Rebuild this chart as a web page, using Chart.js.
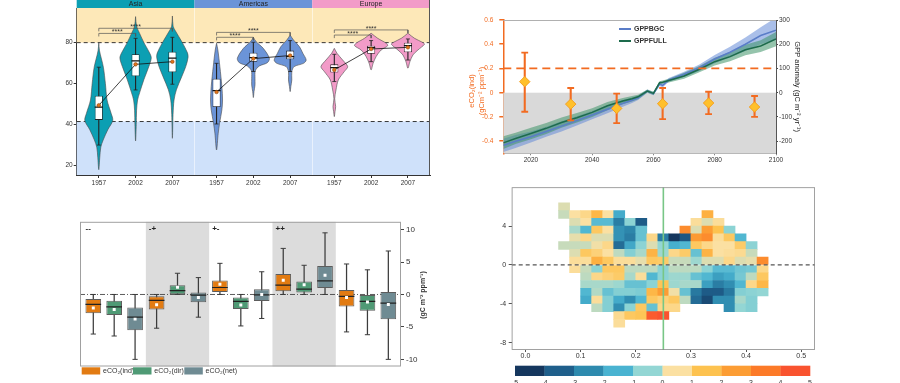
<!DOCTYPE html>
<html>
<head>
<meta charset="utf-8">
<title>Composite figure</title>
<script src="https://cdn.jsdelivr.net/npm/chart.js@4.4.1/dist/chart.umd.min.js"></script>
<style>
  html, body { margin: 0; padding: 0; background: #ffffff; }
  #page { position: relative; width: 900px; height: 383px; overflow: hidden; background: #ffffff; }
  #page canvas { position: absolute; }
</style>
</head>
<body>
<div id="page">
  <canvas id="violin" width="400" height="190" style="left:40px;top:0px;width:400px;height:190px"></canvas>
  <canvas id="gpp" width="410" height="175" style="left:440px;top:0px;width:410px;height:175px"></canvas>
  <canvas id="boxes" width="400" height="168" style="left:40px;top:215px;width:400px;height:168px"></canvas>
  <canvas id="heat" width="380" height="208" style="left:470px;top:175px;width:380px;height:208px"></canvas>
</div>
<script>
/* ================= DATA ================= */
/* Panel A : violins */
const regions = ['Asia', 'Americas', 'Europe'];
const periods = ['1957', '2002', '2007'];
const regionColors = ['#0c9fb3', '#6b94d8', '#f29bc8'];

const vAsia1957Y = [80, 76, 68, 60, 52, 45.5, 42, 37.5, 32.5, 29, 24, 18];
const vAsia1957W = [0, 0.02, 0.125, 0.18, 0.225, 0.335, 0.38, 0.245, 0.12, 0.055, 0.027, 0];
const vAsia2002Y = [92.7, 88, 84.5, 80, 75, 72.5, 68.5, 62, 55.5, 52, 47, 40, 32];
const vAsia2002W = [0, 0.027, 0.11, 0.227, 0.38, 0.426, 0.363, 0.227, 0.109, 0.054, 0.027, 0.018, 0];
const vAsia2007Y = [93, 88, 86, 80, 75, 72.8, 68.3, 63.4, 57, 52, 45, 33.3];
const vAsia2007W = [0, 0.02, 0.073, 0.27, 0.41, 0.426, 0.363, 0.254, 0.109, 0.045, 0.018, 0];
const vAmer1957Y = [79.7, 76.4, 68.3, 58.5, 52, 47.2, 40.7, 35.8, 27.6];
const vAmer1957W = [0, 0.036, 0.09, 0.145, 0.163, 0.145, 0.082, 0.045, 0];
const vAmer2002Y = [82.6, 80.5, 77.2, 72.4, 70.2, 68.6, 66.3, 62.6, 59.3, 56.1, 53.2];
const vAmer2002W = [0, 0.073, 0.27, 0.435, 0.38, 0.163, 0.054, 0.045, 0.045, 0.018, 0];
const vAmer2007Y = [83.7, 81.3, 78, 74.8, 71.5, 69.9, 68.3, 65.9, 61.8, 58.5, 56.1];
const vAmer2007W = [0, 0.09, 0.254, 0.345, 0.435, 0.363, 0.109, 0.045, 0.045, 0.018, 0];
const vEuro1957Y = [77.2, 74.8, 71.5, 68.3, 65.9, 61.8, 56.9, 52.6, 48.8, 46.3, 43.9];
const vEuro1957W = [0, 0.073, 0.227, 0.363, 0.272, 0.109, 0.045, 0.01, 0.036, 0.018, 0];
const vEuro2002Y = [84.6, 82.1, 79.7, 78.5, 76.4, 73.2, 69.9, 66.7];
const vEuro2002W = [0, 0.18, 0.41, 0.45, 0.272, 0.136, 0.054, 0];
const vEuro2007Y = [84.6, 82.1, 80, 79.2, 76.4, 74, 70.7, 67.5];
const vEuro2007W = [0, 0.18, 0.41, 0.45, 0.272, 0.136, 0.054, 0];

const boxQ1 = [42.3, 63.6, 65.5, 48.6, 70.7, 71.9, 65.4, 74.6, 75.3];
const boxMedian = [48.5, 71.1, 72.4, 56.6, 72.7, 73.2, 67.8, 77.6, 78.5];
const boxQ3 = [54.1, 74.3, 75.6, 62.4, 75.1, 76.1, 69.4, 78.5, 80.0];
const whiskerLow = [30, 56.9, 59.7, 40.3, 65.9, 65.9, 61, 70.7, 71.5];
const whiskerHigh = [68, 82.1, 82.6, 69.9, 80.2, 81, 74.3, 81, 81.8];
const groupMean = [49.4, 69.4, 70.7, 55.9, 72.2, 73.7, 66.7, 76.9, 77.7];
const bracketLow = [84.5, 82.6, 83.7];   // 1957 vs 2002
const bracketHigh = [87.0, 85.0, 86.2];  // 1957 vs 2007
const bracketLabel = '****';
const upperThreshold = 80;
const lowerThreshold = 41.5;
const violinYTicks = [20, 40, 60, 80];

/* Panel B : GPP anomaly lines and eCO2(ind) error bars */
const gppYears    = [2011, 2015, 2020, 2025, 2030, 2035, 2040, 2045, 2050, 2053, 2055, 2058, 2060, 2062, 2063, 2065, 2070, 2075, 2080, 2085, 2090, 2095, 2100];
const gppBGC      = [-217, -200, -182, -160, -138, -115, -92, -68, -44, -31, -21, 7, -4, 36, 30, 53, 76, 103, 139, 167, 200, 236, 258];
const gppBGCLow   = [-245, -228, -205, -182, -160, -135, -110, -85, -58, -42, -30, 0, -10, 28, 22, 45, 65, 90, 122, 145, 172, 200, 218];
const gppBGCHigh  = [-190, -175, -160, -140, -118, -97, -75, -52, -30, -20, -12, 13, 3, 44, 40, 61, 86, 116, 156, 190, 228, 270, 310];
const gppFULL     = [-207, -189, -168, -147, -123, -103, -81, -54, -34, -25, -17, 7, -3, 41, 43, 50, 69, 97, 128, 149, 177, 193, 222];
const gppFULLLow  = [-232, -212, -192, -170, -145, -123, -100, -72, -48, -36, -27, 1, -9, 35, 37, 42, 58, 84, 112, 130, 155, 168, 192];
const gppFULLHigh = [-180, -165, -145, -125, -102, -84, -64, -38, -22, -14, -8, 13, 4, 47, 50, 58, 82, 110, 144, 168, 198, 216, 250];
const gppNames = ['GPPBGC', 'GPPFULL'];
const gppLineColors = ['#5a7dc8', '#1d6b4c'];
const gppBandColors = ['rgba(100,138,215,0.55)', 'rgba(62,148,104,0.55)'];
const indYears = [2018, 2033, 2048, 2063, 2078, 2093];
const indMean = [0.091, -0.094, -0.13, -0.091, -0.085, -0.118];
const indLow = [-0.157, -0.229, -0.251, -0.218, -0.176, -0.2];
const indHigh = [0.331, 0.039, -0.008, 0.039, 0.008, -0.027];
const indThreshold = 0.2;
const gppXTicks = [2020, 2040, 2060, 2080, 2100];
const indYTicks = [-0.4, -0.2, 0, 0.2, 0.4, 0.6];
const gppYTicks = [-200, -100, 0, 100, 200, 300];

/* Panel C : box plots */
const groupIds = [1, 2, 3, 4, 5];
const groupLabels = ['--', '-+', '+-', '++', ''];
const shadedGroups = [2, 4];
const seriesNames = ['eCO\u2082(ind)', 'eCO\u2082(dir)', 'eCO\u2082(net)'];
const seriesColors = ['#e27b12', '#4f9a75', '#6f8b93'];
const indQ1   = [-2.9, -2.3, 0.4, 0.5, -1.84];
const indMed  = [-1.53, -0.92, 1.07, 1.43, -0.3];
const indQ3   = [-0.71, -0.26, 2.14, 3.16, 0.7];
const indLo   = [-6.1, -5.2, 0, 0, -5.77];
const indHi   = [0, 0, 4.8, 7.1, 4.7];
const indAvg  = [-2.1, -1.6, 1.58, 2.2, -0.46];
const dirQ1   = [-3.16, 0.05, -2.25, 0.3, -2.5];
const dirMed  = [-1.9, 0.6, -1.07, 0.82, -1.07];
const dirQ3   = [-0.97, 1.43, -0.46, 2.0, 0];
const dirLo   = [-6.4, 0, -4.85, 0, -6.2];
const dirHi   = [0, 3.27, 0, 4.5, 3.8];
const dirAvg  = [-2.3, 1.1, -1.63, 1.5, -1.17];
const netQ1   = [-5.5, -1.2, -1.0, 1.0, -3.83];
const netMed  = [-3.5, -0.1, -0.05, 2.1, -1.33];
const netQ3   = [-2.0, 0.3, 0.8, 4.4, 0.4];
const netLo   = [-10, -3.5, -3.7, 0, -10];
const netHi   = [0, 2.6, 3.5, 9.5, 6.7];
const netAvg  = [-3.8, -0.46, 0, 2.96, -1.53];
const boxYTicks = [-10, -5, 0, 5, 10];

/* Panel D : heat map */
const heatXCenters = [0.07, 0.09, 0.11, 0.13, 0.15, 0.17, 0.19, 0.21, 0.23, 0.25, 0.27, 0.29, 0.31, 0.33, 0.35, 0.37, 0.39, 0.41, 0.43];
const heatYCenters = [6.0, 5.2, 4.4, 3.6, 2.8, 2.0, 1.2, 0.4, -0.4, -1.2, -2.0, -2.8, -3.6, -4.4, -5.2, -6.0];
const _ = null;
const heatValues = [
  [0.2, _, _, _, _, _, _, _, _, _, _, _, _, _, _, _, _, _, _],
  [0, 0.5, 0.8, 1.8, 0.5, -1.7, _, _, _, _, _, _, _, 2.0, _, _, _, _, _],
  [_, 0.2, 0.5, -1.3, -1.3, -2.8, -0.6, -3.6, _, _, _, _, 0.6, 0.2, 0.6, _, _, _, _],
  [_, -0.3, -1.4, 1.3, 0.5, -2.3, -2.6, -1.1, _, _, _, 3.0, 0.2, 2.5, 1.5, -0.6, _, _, _],
  [_, 0.3, 0.8, 0.2, 0.2, -2.3, -2.8, -1.1, 0.8, -2.8, -4.6, -3.7, 2.6, 3.0, 0.6, 1.3, -1.4, _, _],
  [0, 0, 0, 0.4, 0.8, -3.2, -1.8, -0.6, 0.2, -0.5, -1.6, -1.4, 1.3, 0.8, 0.5, 0.5, 1.2, -0.6, _],
  [_, 0.2, 1.3, 1.0, 0.5, -0.1, -0.7, -0.3, 1.9, -0.4, 0.8, 1.2, -1.1, 1.9, 0.5, 0.6, 0.7, 0, _],
  [_, 0.6, 0.6, 2.0, 1.3, 0.6, 0.6, 0.3, 1.3, 1.2, 0, 0, -0.4, 0.2, 0.2, 0.8, 0.2, 0.3, 3.0],
  [_, 0.6, 0, -0.6, 1.3, 1.3, -0.1, -0.1, -0.1, -0.6, -0.1, -0.1, -0.1, -0.6, -1.3, -1.3, -1.0, -0.9, 0.8],
  [_, _, -0.1, 0.8, 1.0, 1.2, -0.3, 0.6, -1.4, -0.6, -0.4, -0.4, -1.1, -1.4, -2.0, -1.7, -0.9, -0.1, 1.3],
  [_, _, -0.3, -0.3, -0.3, -0.4, -1.1, -1.1, -0.6, 1.4, -0.4, -0.3, -0.3, -2.0, -2.8, -2.4, -1.4, 0.8, 1.8],
  [_, _, -1.4, -0.2, -1.1, -0.7, -0.7, -0.8, 1.8, 2.5, 0.4, -1.1, -2.9, -3.6, -3.6, -2.9, -0.7, -0.6, -0.5],
  [_, _, -1.7, 0.6, -0.7, -1.7, -2.4, -1.4, 1.3, 1.0, 1.3, -0.1, -3.2, -4.0, -2.4, -2.4, -0.3, -0.7, _],
  [_, _, _, -0.1, -0.7, -2.4, -0.6, 1.3, -1.1, 0.8, 0.8, _, _, _, _, -2.4, -0.5, -0.7, _],
  [_, _, _, _, _, 0.7, 1.3, 1.4, 4.3, 4.6, _, _, _, _, _, _, _, _, _],
  [_, _, _, _, _, 0.6, _, _, _, _, _, _, _, _, _, _, _, _, _]
];
const heatBreaks = [-5, -4, -3, -2, -1, 0, 1, 2, 3, 4, 5];
const heatColors = ['#15375e', '#1f5f8b', '#2e8aae', '#4ab3d1', '#93d6d4', '#fbe0a2', '#fdc24f', '#fc9d34', '#fc7a28', '#f9532f'];
const heatRefX = 0.25;
const heatXTicks = [0, 0.1, 0.2, 0.3, 0.4, 0.5];
const heatYTicks = [-8, -4, 0, 4];

/* ================= COMMON ================= */
const FONT = "'Liberation Sans', Arial, Helvetica, sans-serif";
Chart.defaults.font.family = FONT;
Chart.defaults.font.size = 7;
Chart.defaults.color = '#333';
Chart.defaults.plugins.legend.display = false;
Chart.defaults.plugins.tooltip.enabled = false;
Chart.defaults.elements.point.radius = 0;
Chart.defaults.elements.point.hoverRadius = 0;

const baseOpts = { responsive: false, animation: false, devicePixelRatio: 1, events: [] };
const fixWidth = w => s => { s.width = w; };
const fixHeight = h => s => { s.height = h; };
const useTicks = vals => s => { s.ticks = vals.map(v => ({ value: v })); };

/* ================= PANEL A ================= */
(function () {
  const levels = [vAsia1957Y, vAsia2002Y, vAsia2007Y, vAmer1957Y, vAmer2002Y, vAmer2007Y, vEuro1957Y, vEuro2002Y, vEuro2007Y];
  const widths = [vAsia1957W, vAsia2002W, vAsia2007W, vAmer1957W, vAmer2002W, vAmer2007W, vEuro1957W, vEuro2002W, vEuro2007W];
  const panelSpan = 3.2, firstOffset = 0.6;
  const xMax = panelSpan * regions.length;
  const xPos = i => Math.floor(i / periods.length) * panelSpan + firstOffset + (i % periods.length);
  const xs = boxQ1.map((_, i) => xPos(i));
  const ds = [];

  [upperThreshold, lowerThreshold].forEach(v => ds.push({
    type: 'line', data: [{ x: 0, y: v }, { x: xMax, y: v }],
    borderColor: '#222', borderWidth: 0.9, borderDash: [4, 3], order: 20
  }));

  levels.forEach((lv, i) => {
    const cx = xs[i];
    const right = lv.map((v, k) => ({ x: cx + widths[i][k], y: v }));
    const left = lv.map((v, k) => ({ x: cx - widths[i][k], y: v })).reverse().slice(1);
    ds.push({
      type: 'line', data: right.concat(left), fill: 'shape',
      backgroundColor: regionColors[Math.floor(i / periods.length)],
      borderColor: '#4a4a4a', borderWidth: 0.6, tension: 0.3, order: 10
    });
  });

  ds.push({ type: 'bar', data: xs.map((x, i) => ({ x, y: [whiskerLow[i], whiskerHigh[i]] })),
    backgroundColor: '#222', grouped: false, categoryPercentage: 1, barPercentage: 0.03, order: 8 });
  ds.push({ type: 'line', showLine: false,
    data: xs.flatMap((x, i) => [{ x, y: whiskerLow[i] }, { x, y: whiskerHigh[i] }]),
    pointStyle: 'line', pointRadius: 2, pointBorderColor: '#222', pointBorderWidth: 0.8, order: 8 });
  ds.push({ type: 'bar', data: xs.map((x, i) => ({ x, y: [boxQ1[i], boxQ3[i]] })),
    backgroundColor: '#ffffff', borderColor: '#222', borderWidth: 0.8, borderSkipped: false,
    grouped: false, categoryPercentage: 1, barPercentage: 0.22, order: 6 });
  ds.push({ type: 'bar', data: xs.map((x, i) => ({ x, y: [boxMedian[i] - 0.3, boxMedian[i] + 0.3] })),
    backgroundColor: '#111', grouped: false, categoryPercentage: 1, barPercentage: 0.22, order: 5 });

  regions.forEach((r, ri) => {
    const idx = periods.map((p, pi) => ri * periods.length + pi);
    ds.push({ type: 'line', data: idx.map(i => ({ x: xs[i], y: groupMean[i] })),
      borderColor: '#111', borderWidth: 0.8, pointRadius: 1.8, pointBackgroundColor: '#e0731c',
      pointBorderColor: '#7a3a00', pointBorderWidth: 0.5, order: 3 });
    const x0 = xs[idx[0]];
    [[xs[idx[1]], bracketLow[ri]], [xs[idx[2]], bracketHigh[ri]]].forEach(([x1, b]) => {
      ds.push({ type: 'line', data: [{ x: x0, y: b - 1.5 }, { x: x0, y: b }, { x: x1, y: b }, { x: x1, y: b - 1.5 }],
        borderColor: '#555', borderWidth: 0.7, order: 2 });
    });
  });

  const decor = {
    id: 'violinDecor',
    beforeDatasetsDraw(chart) {
      const { ctx, chartArea: a, scales: { x, y } } = chart;
      ctx.save();
      const yUp = y.getPixelForValue(upperThreshold), yLo = y.getPixelForValue(lowerThreshold);
      ctx.fillStyle = '#fde8b8'; ctx.fillRect(a.left, a.top, a.width, yUp - a.top);
      ctx.fillStyle = '#cfe1fa'; ctx.fillRect(a.left, yLo, a.width, a.bottom - yLo);
      ctx.strokeStyle = 'rgba(255,255,255,0.55)'; ctx.lineWidth = 1;
      for (let r = 1; r < regions.length; r++) {
        const px = Math.round(x.getPixelForValue(r * panelSpan)) + 0.5;
        ctx.beginPath(); ctx.moveTo(px, a.top); ctx.lineTo(px, a.bottom); ctx.stroke();
      }
      ctx.restore();
    },
    afterDatasetsDraw(chart) {
      const { ctx, scales: { x, y } } = chart;
      ctx.save();
      ctx.font = '7px ' + FONT; ctx.fillStyle = '#333'; ctx.textAlign = 'center'; ctx.textBaseline = 'alphabetic';
      regions.forEach((r, ri) => {
        const i0 = ri * periods.length;
        ctx.fillText(bracketLabel, x.getPixelForValue((xs[i0] + xs[i0 + 1]) / 2), y.getPixelForValue(bracketLow[ri]) + 0.8);
        ctx.fillText(bracketLabel, x.getPixelForValue((xs[i0] + xs[i0 + 2]) / 2), y.getPixelForValue(bracketHigh[ri]) + 0.8);
      });
      ctx.restore();
    },
    afterDraw(chart) {
      const { ctx, chartArea: a, scales: { x } } = chart;
      ctx.save();
      regions.forEach((r, ri) => {
        const l = x.getPixelForValue(ri * panelSpan), rr = x.getPixelForValue((ri + 1) * panelSpan);
        ctx.fillStyle = regionColors[ri];
        ctx.fillRect(l, 0, rr - l, a.top);
        ctx.fillStyle = '#222'; ctx.font = '7px ' + FONT; ctx.textAlign = 'center'; ctx.textBaseline = 'middle';
        ctx.fillText(r, (l + rr) / 2, a.top / 2 + 0.5);
      });
      ctx.strokeStyle = '#555'; ctx.lineWidth = 1;
      ctx.beginPath(); ctx.moveTo(a.right - 0.5, 0); ctx.lineTo(a.right - 0.5, a.bottom); ctx.stroke();
      ctx.restore();
    }
  };

  const tickLabels = xs.map((_, i) => periods[i % periods.length]);
  new Chart(document.getElementById('violin'), {
    type: 'line',
    data: { datasets: ds },
    options: Object.assign({}, baseOpts, {
      layout: { padding: { left: 0, right: 10, top: 8, bottom: 0 } },
      scales: {
        x: { type: 'linear', min: 0, max: xMax, offset: false,
          afterFit: fixHeight(15), afterBuildTicks: useTicks(xs),
          grid: { display: true, drawOnChartArea: false, offset: false, tickLength: 3, color: '#333' },
          border: { display: true, color: '#333', width: 1 },
          ticks: { autoSkip: false, maxRotation: 0, padding: 1, font: { size: 6.5 }, color: '#333',
            callback: (v, i) => tickLabels[i] } },
        y: { type: 'linear', min: 15.4, max: 96.9, stacked: false,
          afterFit: fixWidth(36.7), afterBuildTicks: useTicks(violinYTicks),
          grid: { drawOnChartArea: false, tickLength: 3, color: '#333' },
          border: { display: true, color: '#333', width: 1 },
          ticks: { padding: 1, font: { size: 6.5 }, color: '#333', callback: v => String(v) } }
      }
    }),
    plugins: [decor]
  });
})();

/* ================= PANEL B ================= */
(function () {
  const orange = '#f26b21';
  const ds = [];
  const bands = [[gppBGCLow, gppBGCHigh], [gppFULLLow, gppFULLHigh]];
  bands.forEach(([lo, hi], k) => {
    ds.push({ type: 'line', yAxisID: 'y2', data: gppYears.map((yr, i) => ({ x: yr, y: lo[i] })),
      borderWidth: 0, borderColor: 'rgba(0,0,0,0)', fill: false, order: 12 - k * 2 });
    ds.push({ type: 'line', yAxisID: 'y2', data: gppYears.map((yr, i) => ({ x: yr, y: hi[i] })),
      borderWidth: 0, borderColor: 'rgba(0,0,0,0)', backgroundColor: gppBandColors[k], fill: '-1', order: 12 - k * 2 });
  });
  [gppBGC, gppFULL].forEach((vals, k) => {
    ds.push({ type: 'line', label: gppNames[k], yAxisID: 'y2', data: gppYears.map((yr, i) => ({ x: yr, y: vals[i] })),
      borderColor: gppLineColors[k], borderWidth: 1.5, order: 8 - k });
  });
  ds.push({ type: 'line', yAxisID: 'y', data: [{ x: 2011, y: indThreshold }, { x: 2100, y: indThreshold }],
    borderColor: orange, borderWidth: 1.8, borderDash: [8, 5], order: 5 });
  ds.push({ type: 'bar', yAxisID: 'y', data: indYears.map((yr, i) => ({ x: yr, y: [indLow[i], indHigh[i]] })),
    backgroundColor: orange, grouped: false, categoryPercentage: 1, barPercentage: 0.045, order: 4 });
  ds.push({ type: 'line', yAxisID: 'y', showLine: false,
    data: indYears.flatMap((yr, i) => [{ x: yr, y: indLow[i] }, { x: yr, y: indHigh[i] }]),
    pointStyle: 'line', pointRadius: 3.4, pointBorderColor: orange, pointBorderWidth: 1.8, order: 3 });
  ds.push({ type: 'line', yAxisID: 'y', showLine: false,
    data: indYears.map((yr, i) => ({ x: yr, y: indMean[i] })),
    pointStyle: 'rectRot', pointRadius: 5.2, pointBackgroundColor: '#ffc02b', pointBorderColor: '#f4a020',
    pointBorderWidth: 1, order: 2 });

  const decor = {
    id: 'gppDecor',
    beforeDatasetsDraw(chart) {
      const { ctx, chartArea: a, scales: { y } } = chart;
      const y0 = y.getPixelForValue(0);
      ctx.save(); ctx.fillStyle = '#d9d9d9'; ctx.fillRect(a.left, y0, a.width, a.bottom - y0); ctx.restore();
    },
    afterDraw(chart) {
      const { ctx, chartArea: a } = chart;
      ctx.save();
      ctx.strokeStyle = '#b0b0b0'; ctx.lineWidth = 1;
      ctx.beginPath(); ctx.moveTo(a.left, a.top + 0.5); ctx.lineTo(a.right, a.top + 0.5); ctx.stroke();
      // legend
      ctx.font = 'bold 7px ' + FONT; ctx.textBaseline = 'middle'; ctx.textAlign = 'left';
      gppNames.forEach((n, k) => {
        const yy = 29 + k * 12;
        ctx.strokeStyle = gppLineColors[k]; ctx.lineWidth = 2;
        ctx.beginPath(); ctx.moveTo(179, yy); ctx.lineTo(191, yy); ctx.stroke();
        ctx.fillStyle = '#333'; ctx.fillText(n, 194, yy);
      });
      // left axis title
      ctx.fillStyle = orange; ctx.font = '7.5px ' + FONT; ctx.textAlign = 'center';
      ctx.translate(31.7, 91); ctx.rotate(-Math.PI / 2);
      ctx.fillText('eCO\u2082(ind)', 0, 0);
      ctx.fillText('(gCm\u207B\u00B2 ppm\u207B\u00B9)', 0, 10);
      ctx.restore();
    }
  };

  new Chart(document.getElementById('gpp'), {
    type: 'line',
    data: { datasets: ds },
    options: Object.assign({}, baseOpts, {
      layout: { padding: { left: 0, right: 0, top: 20, bottom: 0 } },
      scales: {
        x: { type: 'linear', min: 2011, max: 2100, offset: false,
          afterFit: fixHeight(21.7), afterBuildTicks: useTicks(gppXTicks),
          grid: { drawOnChartArea: false, offset: false, tickLength: 2, color: '#888' },
          border: { display: true, color: '#aaa', width: 1 },
          ticks: { padding: 1, font: { size: 6.5 }, color: '#333', maxRotation: 0, callback: v => String(v) } },
        y: { type: 'linear', position: 'left', min: -0.5, max: 0.6, stacked: false,
          afterFit: fixWidth(63.3), afterBuildTicks: useTicks(indYTicks),
          grid: { drawOnChartArea: false, tickLength: 4, color: orange, lineWidth: 1.5 },
          border: { display: true, color: orange, width: 1.5 },
          ticks: { padding: 6, font: { size: 6.5 }, color: orange,
            callback: v => (Math.abs(v) < 1e-9 ? '0' : v.toFixed(1)) } },
        y2: { type: 'linear', position: 'right', min: -250, max: 300,
          afterFit: fixWidth(74), afterBuildTicks: useTicks(gppYTicks),
          grid: { drawOnChartArea: false, tickLength: 2, color: '#444' },
          border: { display: true, color: '#555', width: 1 },
          ticks: { padding: 1, font: { size: 6.5 }, color: '#333', callback: v => String(v) },
          title: { display: true, text: 'GPP anomaly (gC m\u207B\u00B2 yr\u207B\u00B9)', color: '#222',
            font: { size: 7.5 }, padding: { top: 48.5, bottom: 0 } } }
      }
    }),
    plugins: [decor]
  });
})();

/* ================= PANEL C ================= */
(function () {
  const seriesOffset = [-0.33, 0, 0.33];
  const stats = [
    [indQ1, indMed, indQ3, indLo, indHi, indAvg],
    [dirQ1, dirMed, dirQ3, dirLo, dirHi, dirAvg],
    [netQ1, netMed, netQ3, netLo, netHi, netAvg]
  ];
  const xMin = 0.46, xMax = 5.53;
  const ds = [];
  ds.push({ type: 'line', data: [{ x: xMin, y: 0 }, { x: xMax, y: 0 }],
    borderColor: '#333', borderWidth: 0.8, borderDash: [5, 2, 1, 2], order: 9 });
  stats.forEach(([q1, med, q3, lo, hi, mean], s) => {
    const xs = groupIds.map(g => g + seriesOffset[s]);
    ds.push({ type: 'bar', data: xs.map((x, i) => ({ x, y: [lo[i], hi[i]] })),
      backgroundColor: '#3c3c3c', grouped: false, categoryPercentage: 1, barPercentage: 0.06, order: 7 });
    ds.push({ type: 'line', showLine: false, data: xs.flatMap((x, i) => [{ x, y: lo[i] }, { x, y: hi[i] }]),
      pointStyle: 'line', pointRadius: 2.6, pointBorderColor: '#3c3c3c', pointBorderWidth: 1, order: 7 });
    ds.push({ type: 'bar', label: seriesNames[s], data: xs.map((x, i) => ({ x, y: [q1[i], q3[i]] })),
      backgroundColor: seriesColors[s], borderColor: '#5d5d5d', borderWidth: 1, borderSkipped: false,
      grouped: false, categoryPercentage: 1, barPercentage: 0.75, order: 5 });
    ds.push({ type: 'bar', data: xs.map((x, i) => ({ x, y: [med[i] - 0.09, med[i] + 0.09] })),
      backgroundColor: '#222', grouped: false, categoryPercentage: 1, barPercentage: 0.75, order: 4 });
    ds.push({ type: 'line', showLine: false, data: xs.map((x, i) => ({ x, y: mean[i] })),
      pointStyle: 'rect', pointRadius: 2.1, pointBackgroundColor: '#ffffff', pointBorderWidth: 0, order: 3 });
  });

  const decor = {
    id: 'boxDecor',
    beforeDatasetsDraw(chart) {
      const { ctx, chartArea: a, scales: { x } } = chart;
      ctx.save(); ctx.fillStyle = '#dcdcdc';
      shadedGroups.forEach(g => {
        const l = x.getPixelForValue(g - 0.5), r = x.getPixelForValue(g + 0.5);
        ctx.fillRect(l, a.top, r - l, a.height);
      });
      ctx.restore();
    },
    afterDraw(chart) {
      const { ctx, chartArea: a, scales: { x } } = chart;
      ctx.save();
      ctx.strokeStyle = '#a0a0a0'; ctx.lineWidth = 1;
      ctx.strokeRect(a.left + 0.5, a.top + 0.5, a.width - 1, a.height - 1);
      ctx.fillStyle = '#222'; ctx.font = 'bold 8px ' + FONT; ctx.textAlign = 'left'; ctx.textBaseline = 'middle';
      groupIds.forEach((g, i) => ctx.fillText(groupLabels[i], x.getPixelForValue(g - 0.5) + 3, a.top + 7));
      // legend
      ctx.font = '7px ' + FONT;
      seriesNames.forEach((n, s) => {
        const lx = 41.7 + s * 51.3;
        ctx.fillStyle = seriesColors[s]; ctx.fillRect(lx, 152.3, 18.5, 7.2);
        ctx.fillStyle = '#333'; ctx.fillText(n, lx + 21.3, 155.6);
      });
      // axis title
      ctx.font = 'bold 7px ' + FONT; ctx.textAlign = 'center';
      ctx.translate(383.3, 80); ctx.rotate(-Math.PI / 2);
      ctx.fillText('(gC m\u207B\u00B2 ppm\u207B\u00B9)', 0, 0);
      ctx.restore();
    }
  };

  new Chart(document.getElementById('boxes'), {
    type: 'line',
    data: { datasets: ds },
    options: Object.assign({}, baseOpts, {
      layout: { padding: { left: 40, right: 0, top: 6, bottom: 16.5 } },
      scales: {
        x: { type: 'linear', min: xMin, max: xMax, offset: false, display: false,
          afterBuildTicks: useTicks(groupIds), grid: { offset: false } },
        y: { type: 'linear', position: 'right', min: -11.1, max: 11.2, stacked: false,
          afterFit: fixWidth(39), afterBuildTicks: useTicks(boxYTicks),
          grid: { drawOnChartArea: false, tickLength: 3, color: '#444' },
          border: { display: false },
          ticks: { padding: 2, font: { size: 8 }, color: '#333', callback: v => String(v) } }
      }
    }),
    plugins: [decor]
  });
})();

/* ================= PANEL D ================= */
(function () {
  const hexToRgb = h => [1, 3, 5].map(k => parseInt(h.substr(k, 2), 16));
  const stops = heatColors.map(hexToRgb);
  const heatColor = v => {
    const t = Math.max(0, Math.min(stops.length - 1, v - heatBreaks[0] - 0.5));
    const i = Math.min(stops.length - 2, Math.floor(t)), f = t - i;
    const c = stops[i].map((a, k) => Math.round(a + (stops[i + 1][k] - a) * f));
    return 'rgb(' + c.join(',') + ')';
  };
  const halfH = (heatYCenters[0] - heatYCenters[1]) / 2;
  const cells = [];
  heatValues.forEach((row, r) => row.forEach((v, c) => {
    if (v !== null) cells.push({ x: heatXCenters[c], y: [heatYCenters[r] - halfH, heatYCenters[r] + halfH], v });
  }));
  const xMin = -0.025, xMax = 0.525, yMin = -8.76, yMax = 8;
  const ds = [
    { type: 'bar', data: cells, backgroundColor: ctx => heatColor(ctx.raw.v), borderWidth: 0,
      grouped: false, categoryPercentage: 1, barPercentage: 1, order: 5 },
    { type: 'line', data: [{ x: xMin, y: 0 }, { x: xMax, y: 0 }], borderColor: '#555', borderWidth: 1.2,
      borderDash: [4, 3], order: 3 },
    { type: 'line', data: [{ x: heatRefX, y: yMin }, { x: heatRefX, y: yMax }], borderColor: '#78c686',
      borderWidth: 1.6, order: 2 }
  ];
  const decor = {
    id: 'heatDecor',
    afterDraw(chart) {
      const { ctx, chartArea: a } = chart;
      ctx.save();
      ctx.strokeStyle = '#8a8a8a'; ctx.lineWidth = 0.8;
      ctx.strokeRect(a.left + 0.4, a.top + 0.4, a.width - 0.8, a.height - 0.8);
      // colour bar
      const bl = 45, br = 340, bt = 190.7, bh = 10.3;
      const step = (br - bl) / heatColors.length;
      heatColors.forEach((c, i) => { ctx.fillStyle = c; ctx.fillRect(bl + i * step, bt, step + 0.3, bh); });
      ctx.fillStyle = '#333'; ctx.font = '7px ' + FONT; ctx.textAlign = 'center'; ctx.textBaseline = 'top';
      heatBreaks.forEach((b, i) => ctx.fillText(String(b), bl + i * step, bt + bh + 3.2));
      ctx.restore();
    }
  };
  new Chart(document.getElementById('heat'), {
    type: 'line',
    data: { datasets: ds },
    options: Object.assign({}, baseOpts, {
      layout: { padding: { left: 0, right: 35, top: 12.3, bottom: 17 } },
      scales: {
        x: { type: 'linear', min: xMin, max: xMax, offset: false,
          afterFit: fixHeight(16), afterBuildTicks: useTicks(heatXTicks),
          grid: { drawOnChartArea: false, offset: false, tickLength: 2, color: '#555' },
          border: { display: false },
          ticks: { padding: 0, font: { size: 7 }, color: '#333', maxRotation: 0, callback: v => v.toFixed(1) } },
        y: { type: 'linear', min: yMin, max: yMax, stacked: false,
          afterFit: fixWidth(41.7), afterBuildTicks: useTicks(heatYTicks),
          grid: { drawOnChartArea: false, tickLength: 3, color: '#555' },
          border: { display: false },
          ticks: { padding: 2.5, font: { size: 7 }, color: '#333', callback: v => String(v) } }
      }
    }),
    plugins: [decor]
  });
})();
</script>
</body>
</html>
